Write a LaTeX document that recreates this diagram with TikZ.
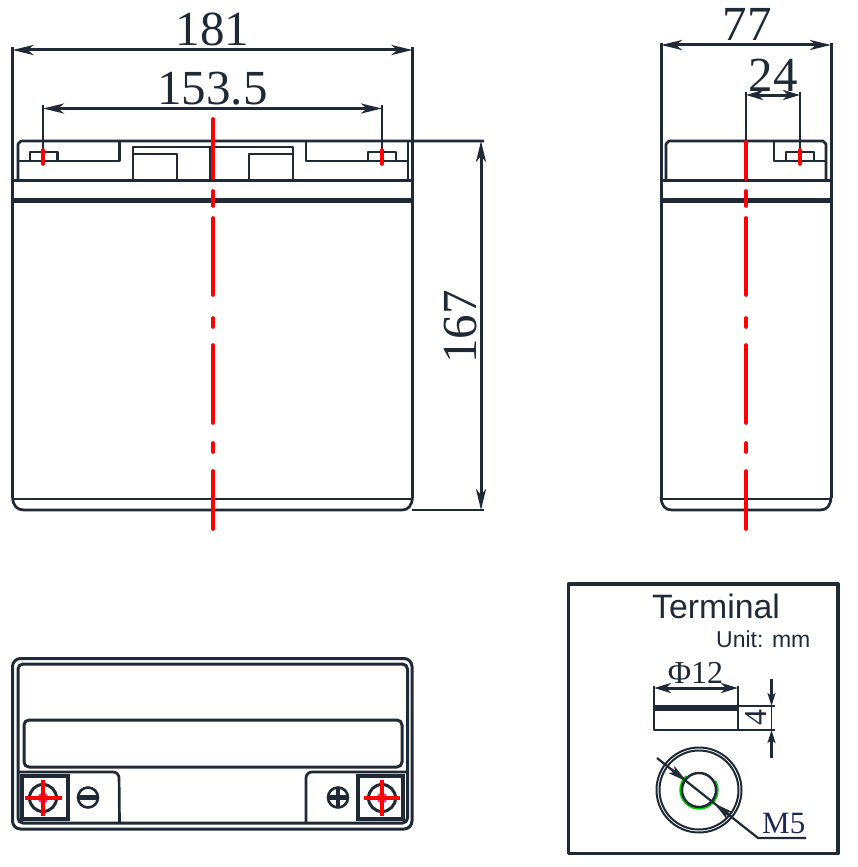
\documentclass[tikz,border=0pt]{standalone}
\usepackage{fontspec}
\setmainfont{Liberation Serif}
\setsansfont{Liberation Sans}
\usetikzlibrary{arrows.meta}
\definecolor{ink}{HTML}{1F2A36}
\definecolor{navy}{HTML}{1C2A50}
\tikzset{
  x=1pt,y=-1pt,
  outline/.style={draw=ink,line width=2.7pt,line join=round},
  heavy/.style={draw=ink,line width=5pt},
  center mark/.style={draw=red,line width=3.6pt,line cap=round},
  cross mark/.style={draw=red,line width=3.2pt},
  dimline/.style={draw=ink,line width=3pt,{Stealth[length=21pt,width=10pt,inset=6pt]}-{Stealth[length=21pt,width=10pt,inset=6pt]}},
  dimshort/.style={draw=ink,line width=3pt,{Stealth[length=17pt,width=10pt,inset=5pt]}-{Stealth[length=17pt,width=10pt,inset=5pt]}},
  dimone/.style={draw=ink,line width=2.2pt,-{Stealth[length=13pt,width=8pt,inset=3pt]}},
  leaderarrow/.style={draw=ink,line width=2.4pt,-{Stealth[length=19pt,width=9pt,inset=4pt]}},
  smalldim/.style={draw=ink,line width=2pt},
  bigtext/.style={font=\fontsize{49}{49}\selectfont,text=ink,inner sep=0pt,anchor=base},
  midtext/.style={font=\fontsize{32}{32}\selectfont,text=ink,inner sep=0pt,anchor=base},
}
\newcommand{\centerdashes}[1]{%
  \draw[center mark] (#1,191) -- (#1,206);
  \draw[center mark] (#1,218) -- (#1,295);
  \draw[center mark] (#1,318) -- (#1,327);
  \draw[center mark] (#1,345) -- (#1,423);
  \draw[center mark] (#1,443) -- (#1,452);
  \draw[center mark] (#1,471) -- (#1,529);
}
\begin{document}
\begin{tikzpicture}
\useasboundingbox (0,0) rectangle (857,867);
% ---- front view
\draw[outline,line width=3pt] (12.5,47) -- (12.5,498);
\draw[outline,line width=3pt] (412.5,47) -- (412.5,498);
\draw[outline] (12.5,497) .. controls (13,506) and (17,510) .. (24,510) -- (402,510) .. controls (408,510) and (412,506) .. (412.5,497);
\draw[outline] (12.5,499) -- (412.5,499);
\draw[heavy] (12.5,200.5) -- (412.5,200.5);
\draw[outline,line width=3pt] (12.5,180) -- (412.5,180);
\draw[outline] (18,180) -- (18,144) -- (21,141) -- (484,141);
\draw[outline] (18,161) -- (119.5,161) -- (119.5,141);
\draw[outline] (30,161) -- (30,152) -- (57.5,152) -- (57.5,161);
\draw[outline] (306,141) -- (306,161) -- (408,161);
\draw[outline] (368,161) -- (368,152) -- (396,152) -- (396,161);
\draw[outline] (408,141) -- (408,180);
\draw[outline] (133,180) -- (133,147) -- (293,147) -- (293,180);
\draw[outline] (133,154) -- (177,154) -- (177,180);
\draw[outline] (293,154) -- (249,154) -- (249,180);
\draw[draw=ink,line width=3.4pt] (210.5,147) -- (210.5,180);
\draw[outline] (412,510) -- (484,510);
% dims front
\draw[dimline] (12.5,50) -- (412.5,50);
\draw[outline] (43,105) -- (43,150);
\draw[outline] (382,105) -- (382,150);
\draw[dimline] (43,108.5) -- (382,108.5);
\draw[dimline] (481,141) -- (481,510);
\node[bigtext] (w181) at (212.5,46) {181};
\node[bigtext] (w153) at (212.5,104) {153.5};
\node[bigtext,rotate=90] (h167) at (476.5,327) {167};
% red
\draw[center mark] (213,119) -- (213,178);
\centerdashes{213}
\draw[center mark] (43,150) -- (43,164);
\draw[center mark] (382,150) -- (382,164);
% ---- side view
\draw[outline,line width=3pt] (661,43) -- (661,498);
\draw[outline,line width=3pt] (831,43) -- (831,498);
\draw[outline] (661,497) .. controls (661.5,506) and (665,510) .. (672,510) -- (820,510) .. controls (827,510) and (830.5,506) .. (831,497);
\draw[outline] (661,499) -- (831,499);
\draw[heavy] (661,200.5) -- (831,200.5);
\draw[outline,line width=3pt] (661,180) -- (831,180);
\draw[outline] (666,180) -- (666,144) -- (669,141) -- (823,141) -- (826,144) -- (826,180);
\draw[outline] (774,141) -- (774,161) -- (826,161);
\draw[outline] (786,161) -- (786,152) -- (814,152) -- (814,161);
\draw[outline] (746,92) -- (746,141);
\draw[outline] (800,92) -- (800,150);
\draw[dimline] (661,45) -- (831,45);
\draw[dimshort] (746,95) -- (800,95);
\node[bigtext] (w77) at (747,41) {77};
\node[bigtext] (w24) at (773,92) {24};
\draw[center mark] (746,142) -- (746,179);
\centerdashes{746}
\draw[center mark] (800,150) -- (800,164);
% ---- bottom view
\draw[outline,line width=3pt,rounded corners=8pt] (12.5,658.5) rectangle (412,829);
\draw[outline,line width=3pt,rounded corners=5pt] (18,664) rectangle (407.5,823);
\draw[outline,line width=3pt,rounded corners=5pt] (24,720) rectangle (402,767);
\draw[outline,rounded corners=6pt] (18,772) -- (119,772) -- (119.5,823);
\draw[outline,rounded corners=6pt] (306,823) -- (306,772) -- (407,772);
\draw[draw=ink,line width=3.4pt] (22,776) rectangle (68,819);
\draw[draw=ink,line width=3.4pt] (358,776) rectangle (403,819);
\fill[magenta!80!white] (43,798) circle[radius=5.5];
\fill[magenta!80!white] (382,798) circle[radius=5.5];
\draw[draw=ink,line width=3pt] (43,798) circle[radius=13.5];
\draw[draw=ink,line width=3pt] (382,798) circle[radius=13.5];
\draw[draw=ink,line width=2.6pt] (88,797.5) circle[radius=10];
\draw[draw=ink,line width=4.4pt] (78,797.5) -- (98,797.5);
\draw[draw=ink,line width=2.6pt] (338,797.5) circle[radius=10];
\draw[draw=ink,line width=4.4pt] (328,797.5) -- (348,797.5);
\draw[draw=ink,line width=4.4pt] (338,787.5) -- (338,807.5);
\draw[cross mark] (25,798) -- (62,798);
\draw[cross mark] (43,780) -- (43,816);
\draw[cross mark] (364,798) -- (400,798);
\draw[cross mark] (382,780) -- (382,816);
% ---- terminal box
\draw[draw=ink,line width=3.4pt,line join=round] (568.5,584) rectangle (838,853.5);
\node[font=\sffamily\fontsize{33.8}{34}\selectfont,text=ink,inner sep=0pt,anchor=base west] (title) at (652,618) {Terminal};
\node[font=\sffamily\fontsize{23}{23}\selectfont,text=ink,inner sep=0pt,anchor=base west] (unit) at (716,647) {Unit: mm};
\node[midtext] (phi) at (695.5,683.5) {Φ12};
\draw[outline] (654,686) -- (654,730) -- (738,730);
\draw[outline] (738,686) -- (738,730);
\draw[draw=ink,line width=5.5pt] (654,708) -- (738,708);
\draw[smalldim] (738,706) -- (775,706);
\draw[smalldim] (738,730) -- (775,730);
\draw[draw=ink,line width=1.2pt] (771.5,706) -- (771.5,730);
\draw[dimshort] (654,688) -- (738,688);
\draw[dimone] (771.5,679) -- (771.5,706);
\draw[dimone] (771.5,758) -- (771.5,730);
\node[midtext,rotate=90] (four) at (766,717) {4};
\draw[draw=green!80!black,line width=2.4pt] (699,790) circle[radius=18.5];
\draw[draw=white,line width=2.8pt] (686,775) arc[start angle=230,end angle=330,radius=19.8];
\draw[draw=ink,line width=2.4pt] (699,790) circle[radius=17];
\draw[draw=ink,line width=2pt] (699,790) circle[radius=42.5];
\draw[draw=ink,line width=2pt] (699,790) circle[radius=39.5];
\coordinate (leadstart) at (657,758);
\coordinate (leadbend) at (758,838);
\coordinate (leadend) at (806,838);
\draw[draw=ink,line width=2.2pt] (leadstart) -- (leadbend) -- (leadend);
\draw[leaderarrow] (671,769.1) -- (686.5,781.4);
\draw[leaderarrow] (731,816.7) -- (714.5,803.5);
\node[font=\fontsize{31}{31}\selectfont,text=navy,inner sep=0pt,anchor=base west] (m5) at (762,833) {M5};
\end{tikzpicture}
\end{document}
